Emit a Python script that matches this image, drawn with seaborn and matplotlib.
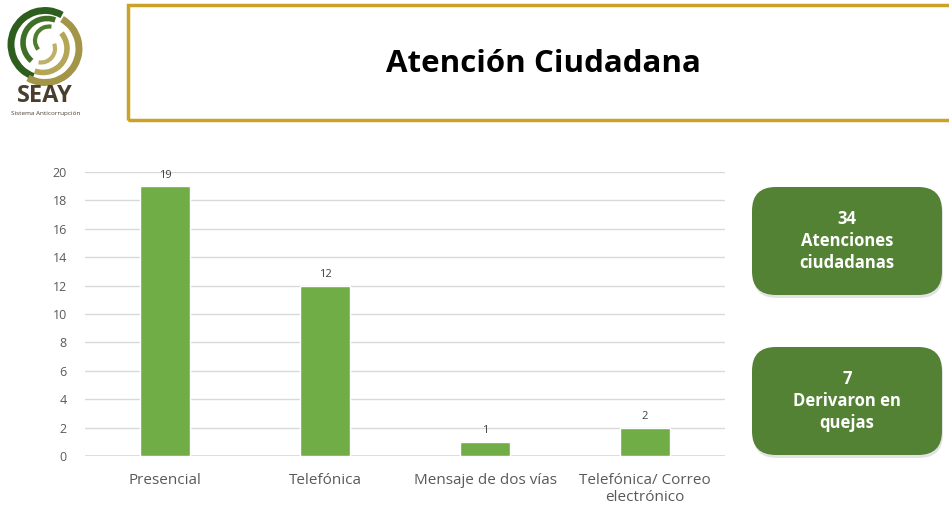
import matplotlib
matplotlib.use("Agg")
import matplotlib.pyplot as plt
import seaborn as sns
import pandas as pd
from matplotlib.patches import FancyBboxPatch, Rectangle, Arc

categories = ["Presencial", "Telefónica", "Mensaje de dos vías", "Telefónica/ Correo\nelectrónico"]
values = [19, 12, 1, 2]
yticks = [0, 2, 4, 6, 8, 10, 12, 14, 16, 18, 20]
title = "Atención Ciudadana"
box_texts = ["34\nAtenciones\nciudadanas", "7\nDerivaron en\nquejas"]

sns.set_theme(style="white")
plt.rcParams['font.family'] = ['Open Sans', 'DejaVu Sans']

W, H = 949, 508
fig = plt.figure(figsize=(W / 100, H / 100), dpi=100)
fig.patch.set_facecolor("white")

def fx(x): return x / W
def fy(y): return 1 - y / H

# Title box
fig.patches.append(Rectangle((fx(128), fy(120)), fx(949 - 128) + 0.01, (120 - 5) / H,
                             transform=fig.transFigure, fill=False,
                             edgecolor="#C9A227", linewidth=2.5))
fig.text(fx(543), fy(64), title, ha="center", va="center", fontsize=22.5,
         fontweight="bold", color="black")

# Logo
lax = fig.add_axes([fx(5), fy(88), fx(80), 83 / H])
lax.set_xlim(-1, 1); lax.set_ylim(-1, 1); lax.set_aspect("equal"); lax.axis("off")
lax.add_patch(Arc((0, 0.05), 1.7, 1.7, theta1=60, theta2=250, color="#2E5E1E", lw=5))
lax.add_patch(Arc((0.05, 0.1), 1.2, 1.2, theta1=70, theta2=230, color="#3F6E26", lw=4))
lax.add_patch(Arc((0.1, 0.15), 0.7, 0.7, theta1=80, theta2=220, color="#4E7D2E", lw=3))
lax.add_patch(Arc((0, -0.05), 1.7, 1.7, theta1=240, theta2=420, color="#A39547", lw=5))
lax.add_patch(Arc((-0.05, -0.05), 1.2, 1.2, theta1=250, theta2=400, color="#B3A657", lw=4))
lax.add_patch(Arc((-0.1, -0.05), 0.7, 0.7, theta1=260, theta2=380, color="#BDB06A", lw=3))
fig.text(fx(45), fy(96), "SEAY", ha="center", va="center", fontsize=17,
         fontweight="bold", color="#4A3F2E")
fig.text(fx(46), fy(114), "Sistema Anticorrupción", ha="center", va="center",
         fontsize=4.6, color="#4A3F2E")

# Chart
ax = fig.add_axes([fx(85), fy(456), fx(725 - 85), (456 - 172) / H])
df = pd.DataFrame({"cat": categories, "val": values})
sns.barplot(data=df, x="cat", y="val", color="#70AD47", width=0.31,
            saturation=1, ax=ax, zorder=3)
ax.set_xlim(-0.5, 3.5)
ax.set_ylim(0, 20)
ax.set_yticks(yticks)
ax.set_xlabel(""); ax.set_ylabel("")
ax.yaxis.grid(True, color="#D9D9D9", linewidth=1, zorder=0)
ax.set_axisbelow(True)
for s in ax.spines.values():
    s.set_visible(False)
ax.tick_params(axis="y", labelsize=9, colors="#595959", length=0, pad=13)
ax.tick_params(axis="x", labelsize=11, colors="#595959", length=0, pad=12)
for lbl in ax.get_yticklabels():
    lbl.set_ha("right")
ax.axhline(0, color="#D9D9D9", linewidth=1.2, zorder=2)
for i, v in enumerate(values):
    ax.annotate(str(v), (i, v), xytext=(0, 4), textcoords="offset points",
                ha="center", va="bottom", fontsize=8, color="#404040")

# Green boxes
for (y0, y1), txt in zip([(187, 295), (347, 455)], box_texts):
    shadow = FancyBboxPatch((fx(753), fy(y1 + 3)), fx(942 - 752), (y1 - y0) / H,
                            boxstyle="round,pad=0,rounding_size=0.025",
                            transform=fig.transFigure, facecolor="#C8C8C8",
                            edgecolor="none", alpha=0.5, mutation_aspect=W / H)
    fig.patches.append(shadow)
    box = FancyBboxPatch((fx(752), fy(y1)), fx(942 - 752), (y1 - y0) / H,
                         boxstyle="round,pad=0,rounding_size=0.025",
                         transform=fig.transFigure, facecolor="#548235",
                         edgecolor="none", mutation_aspect=W / H)
    fig.patches.append(box)
    fig.text(fx(847), fy((y0 + y1) / 2), txt, ha="center", va="center",
             fontsize=12, fontweight="bold", color="white", linespacing=1.3)

fig.savefig("out.png", dpi=100)
